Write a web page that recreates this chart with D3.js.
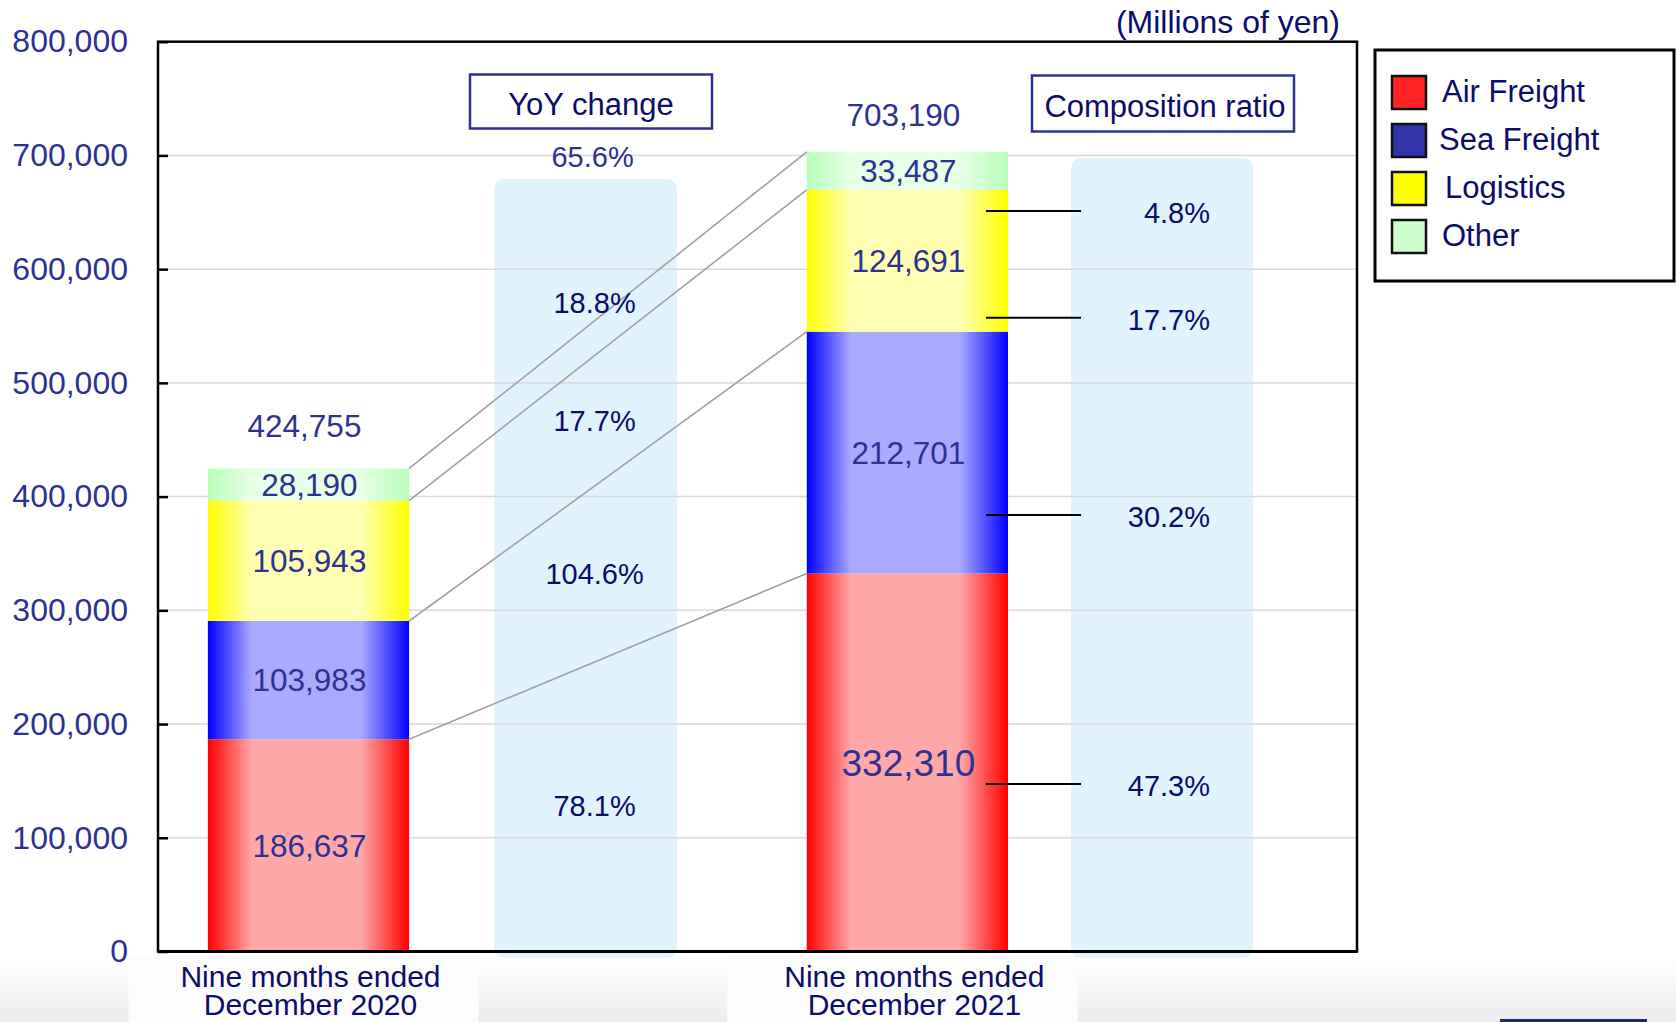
<!DOCTYPE html>
<html>
<head>
<meta charset="utf-8">
<script src="https://cdn.jsdelivr.net/npm/d3@7"></script>
<style>
  body { margin: 0; background: #fff; }
  text { font-family: "Liberation Sans", Arial, sans-serif; }
</style>
</head>
<body>
<svg width="1676" height="1022"></svg>
<script>
// data
const periods = ['Nine months ended December 2020', 'Nine months ended December 2021'];
const periodLines = [['Nine months ended', 'December 2020'], ['Nine months ended', 'December 2021']];
const segments = ['Air Freight', 'Sea Freight', 'Logistics', 'Other'];
const airFreight = [186637, 332310];
const seaFreight = [103983, 212701];
const logistics = [105943, 124691];
const other = [28190, 33487];
const totals = [424755, 703190];
const yoyChange = ['78.1%', '104.6%', '17.7%', '18.8%'];
const yoyTotal = '65.6%';
const composition = ['47.3%', '30.2%', '17.7%', '4.8%'];
const yTicks = [0, 100000, 200000, 300000, 400000, 500000, 600000, 700000, 800000];

// layout (annotation anchors in value units)
const yoyLabelAt = [128000, 332000, 467000, 571000];
const compLabelAt = [147300, 383800, 557300, 651100];

const colors = {
  'Air Freight': { base: '#ff0000', light: '#ffa8a8', key: '#ff2222' },
  'Sea Freight': { base: '#0000ff', light: '#aaaaff', key: '#3333aa' },
  'Logistics': { base: '#ffff00', light: '#ffffb4', key: '#ffff00' },
  'Other': { base: '#b8ffb8', light: '#e6ffe6', key: '#ccffcc' }
};

const navy = '#0c0c6a';
const tickBlue = '#2e3192';

const svg = d3.select('svg');
const plot = { left: 158, right: 1357, top: 41.7, bottom: 951.5 };

const y = d3.scaleLinear().domain([0, 800000]).range([plot.bottom, plot.top]);
const x = d3.scaleBand()
  .domain(periods)
  .range([plot.left, plot.right])
  .paddingInner(0.664)
  .paddingOuter(0.333)
  .align(0.125);
const bw = x.bandwidth();

const table = periods.map((p, i) => ({
  period: p,
  'Air Freight': airFreight[i],
  'Sea Freight': seaFreight[i],
  'Logistics': logistics[i],
  'Other': other[i]
}));
const series = d3.stack().keys(segments)(table);

// gradients
const defs = svg.append('defs');
segments.forEach((s, i) => {
  const g = defs.append('linearGradient').attr('id', 'grad' + i)
    .attr('x1', '0%').attr('x2', '100%').attr('y1', '0%').attr('y2', '0%');
  [[0, colors[s].base], [0.22, colors[s].light], [0.5, colors[s].light], [0.76, colors[s].light], [1, colors[s].base]]
    .forEach(d => g.append('stop').attr('offset', d[0]).attr('stop-color', d[1]));
});
const bg = defs.append('linearGradient').attr('id', 'bottomBg')
  .attr('x1', 0).attr('x2', 0).attr('y1', 0).attr('y2', 1);
bg.append('stop').attr('offset', 0).attr('stop-color', '#ffffff');
bg.append('stop').attr('offset', 1).attr('stop-color', '#ececec');

// faint band below the axis
svg.append('rect')
  .attr('x', 0).attr('y', plot.bottom + 2)
  .attr('width', 1676).attr('height', 1022 - plot.bottom - 2)
  .attr('fill', 'url(#bottomBg)');
periods.forEach(p => {
  svg.append('rect')
    .attr('x', x(p) + bw / 2 - 180).attr('y', plot.bottom + 4)
    .attr('width', 350).attr('height', 70)
    .attr('fill', '#fcfcfc');
});
svg.append('rect')
  .attr('x', 1500).attr('y', 1019).attr('width', 147).attr('height', 3)
  .attr('fill', '#1a2a6c');

// side panels
const yoyBox = { x: x(periods[0]) + bw + 85, w: 183, top: 179 };
const compBox = { x: x(periods[1]) + bw + 63, w: 182, top: 158 };
[yoyBox, compBox].forEach(b => {
  svg.append('rect')
    .attr('x', b.x).attr('y', b.top)
    .attr('width', b.w).attr('height', 958 - b.top)
    .attr('rx', 10)
    .attr('fill', '#e1f3fd');
});

// gridlines
svg.append('g')
  .selectAll('line')
  .data(yTicks.filter(d => d > 0 && d < 800000))
  .join('line')
  .attr('x1', plot.left).attr('x2', plot.right)
  .attr('y1', d => y(d)).attr('y2', d => y(d))
  .attr('stroke', '#d9d9d9')
  .attr('stroke-width', 1.5);

// bars
svg.append('g')
  .selectAll('g')
  .data(series)
  .join('g')
  .attr('fill', (d, i) => 'url(#grad' + i + ')')
  .selectAll('rect')
  .data(d => d)
  .join('rect')
  .attr('x', d => x(d.data.period))
  .attr('y', d => y(d[1]))
  .attr('width', bw)
  .attr('height', d => y(d[0]) - y(d[1]));

// connectors between the two bars
svg.append('g')
  .selectAll('line')
  .data(series)
  .join('line')
  .attr('x1', x(periods[0]) + bw)
  .attr('y1', d => y(d[0][1]))
  .attr('x2', x(periods[1]))
  .attr('y2', d => y(d[1][1]))
  .attr('stroke', '#a0a0a0')
  .attr('stroke-width', 1.6);

// segment labels
svg.append('g')
  .selectAll('g')
  .data(series)
  .join('g')
  .selectAll('text')
  .data(d => d)
  .join('text')
  .attr('x', d => x(d.data.period) + bw / 2 + 1)
  .attr('y', d => (y(d[0]) + y(d[1])) / 2)
  .attr('dy', '0.36em')
  .attr('text-anchor', 'middle')
  .attr('font-size', d => (d[1] - d[0] > 300000 ? 37 : 31.5))
  .attr('fill', tickBlue)
  .text(d => d3.format(',')(d[1] - d[0]));

// totals
svg.append('g')
  .selectAll('text')
  .data(totals)
  .join('text')
  .attr('x', (d, i) => x(periods[i]) + bw / 2 - 4)
  .attr('y', (d, i) => y(d) - (i ? 26 : 31))
  .attr('text-anchor', 'middle')
  .attr('font-size', 31.5)
  .attr('fill', tickBlue)
  .text(d => d3.format(',')(d));

// YoY change panel
const yoyCx = yoyBox.x + yoyBox.w / 2 + 9;
svg.append('rect')
  .attr('x', 470).attr('y', 74.5).attr('width', 242).attr('height', 54)
  .attr('fill', '#fff').attr('stroke', tickBlue).attr('stroke-width', 2.5);
svg.append('text')
  .attr('x', 591).attr('y', 115)
  .attr('text-anchor', 'middle').attr('font-size', 31).attr('fill', navy)
  .text('YoY change');
svg.append('text')
  .attr('x', yoyCx - 2).attr('y', 167)
  .attr('text-anchor', 'middle').attr('font-size', 29).attr('fill', tickBlue)
  .text(yoyTotal);
svg.append('g')
  .selectAll('text')
  .data(yoyChange)
  .join('text')
  .attr('x', yoyCx)
  .attr('y', (d, i) => y(yoyLabelAt[i]))
  .attr('dy', '0.36em')
  .attr('text-anchor', 'middle')
  .attr('font-size', 29)
  .attr('fill', navy)
  .text(d => d);

// Composition ratio panel
svg.append('rect')
  .attr('x', 1032).attr('y', 75.5).attr('width', 262).attr('height', 56)
  .attr('fill', '#fff').attr('stroke', tickBlue).attr('stroke-width', 2.5);
svg.append('text')
  .attr('x', 1165).attr('y', 116.5)
  .attr('text-anchor', 'middle').attr('font-size', 31).attr('fill', navy)
  .text('Composition ratio');
svg.append('g')
  .selectAll('line')
  .data(compLabelAt)
  .join('line')
  .attr('x1', x(periods[1]) + bw - 22)
  .attr('x2', compBox.x + 10)
  .attr('y1', d => y(d)).attr('y2', d => y(d))
  .attr('stroke', '#000').attr('stroke-width', 2);
svg.append('g')
  .selectAll('text')
  .data(composition)
  .join('text')
  .attr('x', compBox.x + 139)
  .attr('y', (d, i) => y(compLabelAt[i]) + 1.5)
  .attr('dy', '0.36em')
  .attr('text-anchor', 'end')
  .attr('font-size', 29)
  .attr('fill', navy)
  .text(d => d);

// frame and axis
svg.append('rect')
  .attr('x', plot.left).attr('y', plot.top)
  .attr('width', plot.right - plot.left).attr('height', plot.bottom - plot.top)
  .attr('fill', 'none').attr('stroke', '#000').attr('stroke-width', 2.5);
svg.append('line')
  .attr('x1', plot.left).attr('x2', plot.right)
  .attr('y1', plot.bottom).attr('y2', plot.bottom)
  .attr('stroke', '#000').attr('stroke-width', 3);

const yAxis = svg.append('g')
  .attr('transform', `translate(${plot.left},0)`)
  .call(d3.axisLeft(y).tickValues(yTicks).tickSize(-10).tickPadding(30).tickFormat(d3.format(',')));
yAxis.select('.domain').remove();
yAxis.selectAll('.tick line').attr('stroke', '#000').attr('stroke-width', 2.5);
yAxis.selectAll('.tick text')
  .attr('font-family', '"Liberation Sans", Arial, sans-serif')
  .attr('font-size', 32)
  .attr('fill', tickBlue);

// unit
svg.append('text')
  .attr('x', 1340).attr('y', 33)
  .attr('text-anchor', 'end').attr('font-size', 32).attr('fill', navy)
  .text('(Millions of yen)');

// category labels
const cat = svg.append('g')
  .selectAll('text')
  .data(periodLines)
  .join('text')
  .attr('text-anchor', 'middle')
  .attr('font-size', 30)
  .attr('fill', navy);
cat.selectAll('tspan')
  .data((d, i) => d.map(t => ({ t, i })))
  .join('tspan')
  .attr('x', d => x(periods[d.i]) + bw / 2 + (d.i ? 7 : 2))
  .attr('y', (d, j) => 987 + j * 28)
  .text(d => d.t);

// legend
svg.append('rect')
  .attr('x', 1375).attr('y', 50).attr('width', 299).attr('height', 231)
  .attr('fill', '#fff').attr('stroke', '#000').attr('stroke-width', 3);
const legend = svg.append('g')
  .selectAll('g')
  .data(segments)
  .join('g')
  .attr('transform', (d, i) => `translate(1392,${76 + i * 48})`);
legend.append('rect')
  .attr('width', 34).attr('height', 33)
  .attr('fill', d => colors[d].key)
  .attr('stroke', '#111').attr('stroke-width', 2.5);
legend.append('text')
  .attr('x', (d, i) => (i === 1 ? 47 : i === 2 ? 53 : 50))
  .attr('y', 26)
  .attr('font-size', 31)
  .attr('fill', navy)
  .text(d => d);
</script>
</body>
</html>
